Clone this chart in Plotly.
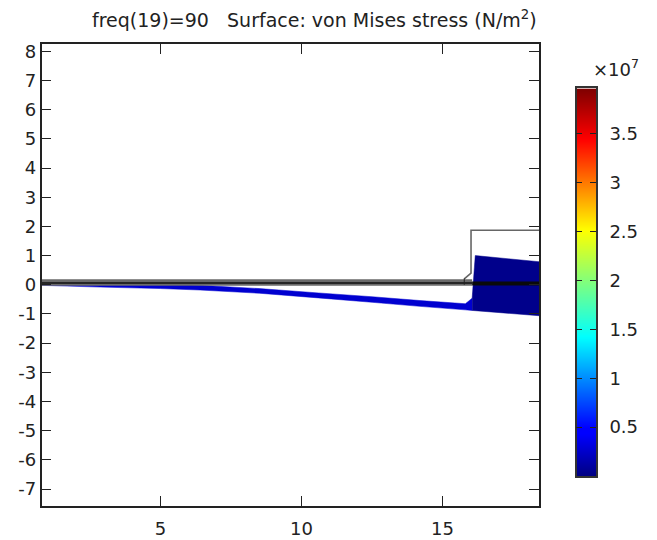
import plotly.graph_objects as go

# Axis ranges and ticks
x_range = [0.78, 18.42]
y_range = [-7.59, 8.26]
x_ticks = [5, 10, 15]
y_ticks = [8, 7, 6, 5, 4, 3, 2, 1, 0, -1, -2, -3, -4, -5, -6, -7]
y_labels = ["8", "7", "6", "5", "4", "3", "2", "1", "0", "-1", "-2", "-3", "-4", "-5", "-6", "-7"]
cbar_ticks = [0.5, 1, 1.5, 2, 2.5, 3, 3.5]
cbar_labels = ["0.5", "1", "1.5", "2", "2.5", "3", "3.5"]
cbar_range = [0.0, 3.965]

# Deformed thin plate (blue)
plate_x = [0.78, 2.87, 5, 6.4, 8.5, 10.6, 12.5, 14.2, 15.81, 16.05]
plate_top = [0.08, 0.06, 0.02, -0.02, -0.13, -0.28, -0.41, -0.54, -0.65, -0.46]
plate_bot = [-0.02, -0.08, -0.13, -0.18, -0.29, -0.45, -0.60, -0.74, -0.86, -0.88]

# Deformed thick block (navy)
block_x = [16.05, 16.16, 18.42, 18.42, 16.05]
block_y = [-0.46, 1.00, 0.79, -1.06, -0.88]

# Undeformed outline
outline_x = [15.77, 16.01, 16.01, 18.42]
outline_y = [0.2, 0.40, 1.87, 1.87]
band_x = [0.78, 16.05]
band_y = [0.08, 0.08]
core_x = [0.78, 16.05]
core_y = [0.06, 0.06]
base_x = [16.05, 18.42]
base_y = [0.04, 0.04]
notch_x = [15.77, 15.77]
notch_y = [0.22, 0.0]

colors = [
    [0.0, "#00007f"], [0.11, "#0000ff"], [0.125, "#0000ff"], [0.36, "#00ffff"],
    [0.5, "#7fff7f"], [0.635, "#ffff00"], [0.87, "#ff0000"], [1.0, "#7f0000"],
]


def line(x, y, color, width):
    return go.Scatter(x=x, y=y, mode="lines", line=dict(color=color, width=width, simplify=False),
                      hoverinfo="skip", showlegend=False)


fig = go.Figure()
fig.add_trace(go.Scatter(x=plate_x + plate_x[::-1], y=plate_top + plate_bot[::-1], mode="lines",
                         fill="toself", fillcolor="#0000d0",
                         line=dict(color="#0000d0", width=0.5, simplify=False),
                         hoverinfo="skip", showlegend=False))
fig.add_trace(go.Scatter(x=block_x, y=block_y, mode="lines", fill="toself", fillcolor="#00008b",
                         line=dict(color="#00008b", width=0.5), hoverinfo="skip", showlegend=False))
fig.add_trace(line(outline_x, outline_y, "#666666", 1.6))
fig.add_trace(line(band_x, band_y, "#6a6a6a", 6.5))
fig.add_trace(line(core_x, core_y, "#111111", 1.5))
fig.add_trace(line(base_x, base_y, "#0a0a0a", 4))
fig.add_trace(line(notch_x, notch_y, "#222222", 1))

# Colour scale drawn on its own axes so that ticks can sit on both inner edges
fig.add_trace(go.Heatmap(x=[0, 1], y=cbar_range, z=[[cbar_range[0]] * 2, [cbar_range[1]] * 2],
                         zsmooth="best", colorscale=colors, zmin=cbar_range[0], zmax=cbar_range[1],
                         showscale=False, hoverinfo="skip", xaxis="x2", yaxis="y2"))

FONT = dict(family="DejaVu Sans", size=18, color="#222222")
axis_style = dict(showline=True, linecolor="#222222", linewidth=1.6, mirror="ticks", ticks="inside",
                  tickcolor="#222222", ticklen=10, tickwidth=1.2, showgrid=False, zeroline=False,
                  tickfont=FONT)

# The page has a body margin, so every position is expressed relative to it
OX, OY = 8, 9
W, H = 657 - OX, 540 - OY
L, R, T, B = 41.5 - OX, 539 - OX, 42 - OY, 508 - OY
BL, BR, BT, BB = 576.5 - OX, 596 - OX, 87 - OY, 477.5 - OY
fig.update_layout(
    width=W, height=H, autosize=False, paper_bgcolor="white", plot_bgcolor="white",
    margin=dict(l=0, r=0, t=0, b=0), showlegend=False,
    xaxis=dict(range=x_range, tickvals=x_ticks, domain=[L / W, R / W], ticklabelstandoff=5, **axis_style),
    yaxis=dict(range=y_range, tickvals=y_ticks, ticktext=y_labels, domain=[1 - B / H, 1 - T / H], **axis_style),
    xaxis2=dict(range=[0, 1], domain=[BL / W, BR / W], anchor="y2", showticklabels=False, ticks="",
                showgrid=False, zeroline=False, showline=True, linecolor="#333333", linewidth=1.6, mirror=True),
    yaxis2=dict(range=cbar_range, domain=[1 - BB / H, 1 - BT / H], anchor="x2", side="right",
                tickvals=cbar_ticks, ticktext=cbar_labels, ticks="inside", ticklen=6, tickwidth=1.2,
                tickcolor="#222222", showgrid=False, zeroline=False, showline=True, linecolor="#333333",
                linewidth=1.6, mirror="ticks", ticklabelstandoff=8, tickfont=FONT),
    annotations=[
        dict(text="freq(19)=90   Surface: von Mises stress (N/m<sup>2</sup>)", xref="paper", yref="paper",
             x=(314 - OX) / W, y=1 - (17 - OY) / H, xanchor="center", yanchor="middle", showarrow=False,
             font=dict(family="DejaVu Sans", size=19, color="#222222")),
        dict(text="×10<sup>7</sup>", xref="paper", yref="paper", x=(591 - OX) / W, y=1 - (66 - OY) / H,
             xanchor="left", yanchor="middle", showarrow=False, font=FONT),
    ],
)
fig.write_html("out.html")
